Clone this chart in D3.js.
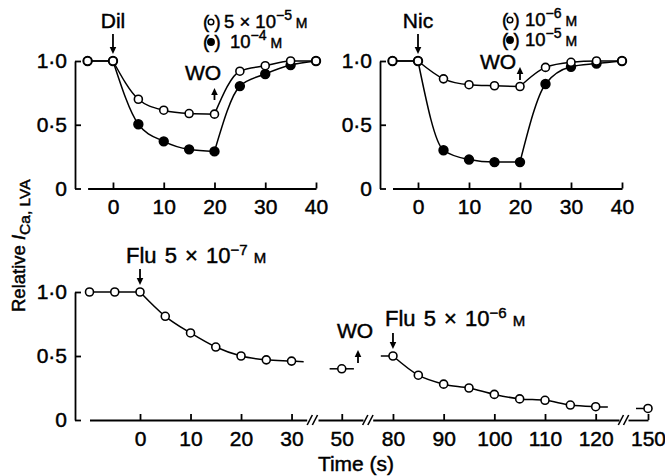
<!DOCTYPE html>
<html><head><meta charset="utf-8">
<script src="https://cdn.jsdelivr.net/npm/d3@7"></script>
<style>
body{margin:0;background:#fff}
svg text{font-family:"Liberation Sans",Arial,Helvetica,sans-serif;fill:#000;stroke:#000;stroke-width:0.45px}
</style></head><body>
<svg id="chart" width="665" height="476"></svg>
<script>
// ---- data: relative LVA calcium current vs. time (s) ----
const timeTop = [-5, 0, 5, 10, 15, 20, 25, 30, 35, 40];
const dilLow  = [1.0, 1.0, 0.70, 0.614, 0.588, 0.583, 0.92, 0.963, 1.0, 1.0];    // Dil 5 x 10^-5 M
const dilHigh = [1.0, 1.0, 0.504, 0.37, 0.307, 0.291, 0.803, 0.898, 0.968, 1.0]; // Dil 10^-4 M
const nicLow  = [1.0, 1.0, 0.86, 0.814, 0.806, 0.80, 0.95, 0.99, 1.0, 1.0];      // Nic 10^-6 M
const nicHigh = [1.0, 1.0, 0.30, 0.227, 0.207, 0.207, 0.82, 0.955, 0.98, 1.0];   // Nic 10^-5 M

const fluTime1 = [-10, -5, 0, 5, 10, 15, 20, 25, 30];
const fluLow   = [1.0, 1.0, 1.0, 0.81, 0.68, 0.57, 0.50, 0.47, 0.46];            // Flu 5 x 10^-7 M
const washTime = [50];
const washVal  = [0.40];
const fluTime2 = [80, 85, 90, 95, 100, 105, 110, 115, 120];
const fluHigh  = [0.50, 0.35, 0.28, 0.25, 0.20, 0.165, 0.154, 0.117, 0.104];     // Flu 5 x 10^-6 M
const lateTime = [150];
const lateVal  = [0.09];

const topTicks = [0, 10, 20, 30, 40];
const yTicks = [0, 0.5, 1];
const bottomTickGroups = [[0, 10, 20, 30], [50], [80, 90, 100, 110, 120], [150]];
// broken time axis: visible stretches of the lower panel
const bottomSegments = [[-10, 33], [45.3, 54.2], [76, 124.6], [146, 150]];

// ---- drawing ----
const svg = d3.select("#chart");
const TICK_FS = 21, ANNOT_FS = 21, LEGEND_FS = 18.5;
const zip = (xs, ys) => xs.map((x, i) => [x, ys[i]]);
const yFmt = d => d === 0 ? "0" : d3.format(".1f")(d).replace(".", "·");

function styleAxis(a) {
  a.selectAll("text").attr("font-size", TICK_FS).attr("font-family", null);
  a.selectAll("path,line").attr("stroke", "#000").attr("stroke-width", 1.8);
}

function yAxis(g, ys, x) {
  g.append("g").attr("transform", `translate(${x},0)`)
    .call(d3.axisLeft(ys).tickValues(yTicks).tickFormat(yFmt).tickSizeInner(-6).tickSizeOuter(0).tickPadding(8))
    .call(styleAxis);
}

function xAxis(g, scale, lo, hi, ticks, y) {
  const s = d3.scaleLinear().domain([lo, hi]).range([scale(lo), scale(hi)]);
  g.append("g").attr("transform", `translate(0,${y})`)
    .call(d3.axisBottom(s).tickValues(ticks).tickFormat(d3.format("d"))
      .tickSizeInner(-6).tickSizeOuter(0).tickPadding(11))
    .call(styleAxis);
}

function curve(g, xs, ys, pts, kind) {
  const line = d3.line().x(d => xs(d[0])).y(d => ys(d[1]))
    .curve(kind === "straight" ? d3.curveLinear : d3.curveMonotoneX);
  g.append("path").attr("d", line(pts)).attr("fill", "none")
    .attr("stroke", "#000").attr("stroke-width", 1.5);
}

function dots(g, xs, ys, pts, filled) {
  g.selectAll(null).data(pts).enter().append("circle")
    .attr("cx", d => xs(d[0])).attr("cy", d => ys(d[1]))
    .attr("r", filled ? 4.4 : 4)
    .attr("fill", filled ? "#000" : "#fff")
    .attr("stroke", "#000").attr("stroke-width", 1.6);
}

function arrow(g, x, yFrom, yTo) {
  const dir = yTo > yFrom ? 1 : -1;
  g.append("line").attr("x1", x).attr("x2", x).attr("y1", yFrom).attr("y2", yTo - dir * 5)
    .attr("stroke", "#000").attr("stroke-width", 1.8);
  g.append("path")
    .attr("d", `M${x - 3.3},${yTo - dir * 7}L${x + 3.3},${yTo - dir * 7}L${x},${yTo}Z`)
    .attr("fill", "#000");
}

function label(g, x, y, str, anchor, fs) {
  return g.append("text").attr("x", x).attr("y", y).attr("font-size", fs || ANNOT_FS)
    .attr("text-anchor", anchor || "start").text(str);
}

// concentration text: mantissa, power-of-ten exponent, small-capital molar unit
function conc(textSel, base, exp, supFs, unitFs) {
  textSel.append("tspan").text(base);
  textSel.append("tspan").attr("dy", -8).attr("font-size", supFs).text(exp);
  textSel.append("tspan").attr("dy", 8).attr("font-size", unitFs).text(" M");
}

function legendRow(g, x, y, filled, base, exp, textX) {
  label(g, x, y, "(", "start", LEGEND_FS);
  g.append("circle").attr("cx", x + 8).attr("cy", y - 6).attr("r", filled ? 3.2 : 2.8)
    .attr("fill", filled ? "#000" : "#fff").attr("stroke", "#000").attr("stroke-width", 1.5);
  label(g, x + 11.5, y, ")", "start", LEGEND_FS);
  const t = g.append("text").attr("x", textX).attr("y", y).attr("font-size", LEGEND_FS);
  conc(t, base, exp, 14, 14);
}

// two time-course panels for Dil and Nic
function topPanel(x0, xRange, yRange, low, high, drug, legend, woPos) {
  const g = svg.append("g");
  const xs = d3.scaleLinear().domain([-5, 40]).range(xRange);
  const ys = d3.scaleLinear().domain([0, 1]).range(yRange);
  yAxis(g, ys, x0);
  xAxis(g, xs, -5, 40, topTicks, ys(0));
  [low, high].forEach(vals => {
    const pts = zip(timeTop, vals);
    curve(g, xs, ys, pts.slice(0, 2), "straight");
    curve(g, xs, ys, pts.slice(1, 6));
    curve(g, xs, ys, pts.slice(5));
  });
  dots(g, xs, ys, zip(timeTop, high), true);
  dots(g, xs, ys, zip(timeTop, low), false);
  // drug application
  label(g, xs(0), 28, drug, "middle");
  arrow(g, xs(0), 34, ys(1) - 7);
  // washout
  label(g, woPos.tx, woPos.ty, "WO", "middle");
  arrow(g, xs(20), woPos.from, woPos.to);
  legendRow(g, legend.x, legend.y, false, legend.low[0], legend.low[1], legend.tx[0]);
  legendRow(g, legend.x, legend.y + 20, true, legend.high[0], legend.high[1], legend.tx[1]);
}

topPanel(75, [87.6, 316], [188.5, 61], dilLow, dilHigh, "Dil",
  {x: 203, y: 28, low: ["5 × 10", "−5"], high: ["10", "−4"], tx: [224, 230]},
  {tx: 203, ty: 80, from: 100, to: 88});
topPanel(380, [392.5, 622], [188.5, 61], nicLow, nicHigh, "Nic",
  {x: 502, y: 26, low: ["10", "−6"], high: ["10", "−5"], tx: [525, 525]},
  {tx: 498, ty: 69, from: 80, to: 67});

// lower panel: Flu with a broken time axis
{
  const g = svg.append("g");
  const xb = d3.scaleLinear()
    .domain([-10, 33, 45.3, 54.2, 76, 124.6, 146, 150])
    .range([89.5, 306.7, 318, 363, 372.7, 619, 628, 648]);
  const ys = d3.scaleLinear().domain([0, 1]).range([420, 292]);
  const y0 = ys(0);
  yAxis(g, ys, 75);
  bottomSegments.forEach((seg, i) => xAxis(g, xb, seg[0], seg[1], bottomTickGroups[i], y0));
  // axis break marks
  for (let i = 0; i < bottomSegments.length - 1; i++) {
    const cx = (xb(bottomSegments[i][1]) + xb(bottomSegments[i + 1][0])) / 2;
    [-2.6, 2.6].forEach(o => g.append("line")
      .attr("x1", cx + o - 2.6).attr("y1", y0 + 5).attr("x2", cx + o + 2.6).attr("y2", y0 - 5)
      .attr("stroke", "#000").attr("stroke-width", 1.6));
  }
  const stub = 2.4; // short recording stubs beside isolated points (s)
  const p1 = zip(fluTime1, fluLow);
  curve(g, xb, ys, p1.slice(0, 3), "straight");
  const last1 = p1[p1.length - 1];
  curve(g, xb, ys, p1.slice(2).concat([[last1[0] + stub, last1[1] - 0.005]]));
  const pw = zip(washTime, washVal)[0];
  curve(g, xb, ys, [[pw[0] - stub, pw[1]], [pw[0] + stub, pw[1]]], "straight");
  const p2 = zip(fluTime2, fluHigh);
  const last2 = p2[p2.length - 1];
  curve(g, xb, ys, [[p2[0][0] - stub, p2[0][1]]].concat(p2.slice(0, 1)), "straight");
  curve(g, xb, ys, p2.concat([[last2[0] + stub, last2[1] - 0.003]]));
  const pl = zip(lateTime, lateVal)[0];
  curve(g, xb, ys, [[pl[0] - stub, pl[1]], pl], "straight");
  dots(g, xb, ys, p1, false);
  dots(g, xb, ys, [pw], false);
  dots(g, xb, ys, p2, false);
  dots(g, xb, ys, [pl], false);

  const t1 = g.append("text").attr("x", 126).attr("y", 263).attr("font-size", 22).attr("word-spacing", 2);
  conc(t1, "Flu 5 × 10", "−7", 15, 15);
  arrow(g, xb(0), 269, ys(1) - 7);
  label(g, 355, 338, "WO", "middle");
  arrow(g, 358, 363, 350);
  const t2 = g.append("text").attr("x", 385).attr("y", 326).attr("font-size", 22).attr("word-spacing", 2);
  conc(t2, "Flu 5 × 10", "−6", 15, 15);
  arrow(g, xb(80), 333, ys(fluHigh[0]) - 7);

  label(g, 356, 471, "Time (s)", "middle");
}

// shared y-axis title
{
  const t = svg.append("text").attr("font-size", 18.5)
    .attr("transform", "translate(25,312) rotate(-90)");
  t.append("tspan").text("Relative ");
  t.append("tspan").attr("font-style", "italic").text("I");
  t.append("tspan").attr("dy", 5).attr("font-size", 15.5).text("Ca, LVA");
}
</script>
</body></html>
